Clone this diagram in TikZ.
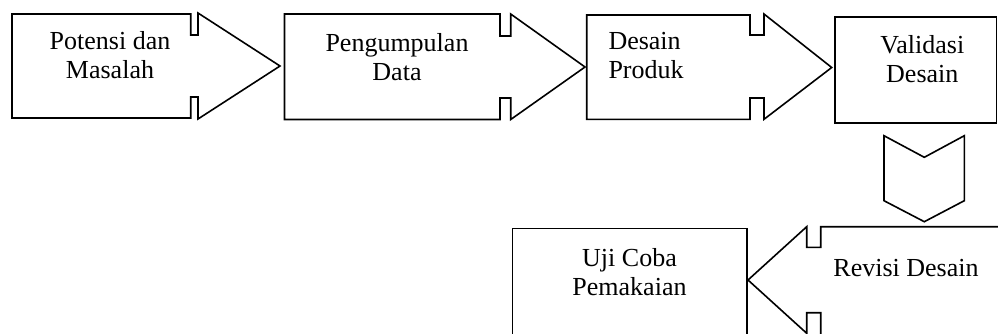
\documentclass[tikz,border=0pt]{standalone}
\usepackage{fontspec}
\setmainfont{Liberation Serif}
\tikzset{
  shapeline/.style={draw=black, line width=1.6pt, line join=miter, fill=white},
  label/.style={inner sep=0pt, font=\fontsize{26}{29}\selectfont, text=black},
}
\begin{document}
\begin{tikzpicture}[x=1pt,y=-1pt]
\useasboundingbox (0,0) rectangle (998,333);
\fill[white] (0,0) rectangle (998,333);
\clip (0,0) rectangle (998,333);
% shape 1: Potensi dan Masalah
\draw[shapeline] (12,14) -- (190.7,14) -- (190.7,35) -- (198,35) -- (198,13)
  -- (280,66) -- (198,119) -- (198,97) -- (190.7,97) -- (190.7,118) -- (12,118) -- cycle;
% shape 2: Pengumpulan Data
\draw[shapeline] (284.5,14) -- (500,14) -- (500,36) -- (510.7,36) -- (510.7,14)
  -- (585,67) -- (510.7,119.5) -- (510.7,98) -- (500,98) -- (500,119.5) -- (284.5,119.5) -- cycle;
% shape 3: Desain Produk
\draw[shapeline] (586.7,15) -- (750,15) -- (750,35) -- (764,35) -- (764,14)
  -- (831.7,67.5) -- (764,119.3) -- (764,98) -- (750,98) -- (750,119.3) -- (586.7,119.3) -- cycle;
% shape 4: Validasi Desain
\draw[shapeline] (835,17) rectangle (996.5,123);
% down chevron
\draw[shapeline] (884,135.7) -- (924.3,157.3) -- (964.3,135.7) -- (964.3,200.7)
  -- (924.3,221.7) -- (884,200.7) -- cycle;
% Uji Coba Pemakaian box
\draw[shapeline] (512.3,340) -- (512.3,228.3) -- (746.7,228.3) -- (746.7,340);
% Revisi Desain arrow (pointing left)
\draw[shapeline] (1005,226.7) -- (820.7,226.7) -- (820.7,247.3) -- (806.7,247.3) -- (806.7,226.7)
  -- (748,280) -- (806.7,333.3) -- (806.7,312.7) -- (820.7,312.7) -- (820.7,340) -- (1005,340);
% labels (anchor = baseline of the last line)
\node[label, anchor=base, align=center] (t1) at (110,78.5) {Potensi dan\\Masalah};
\node[label, anchor=base, align=center] (t2) at (397,80.5) {Pengumpulan\\Data};
\node[label, anchor=base west, align=left] (t3) at (608.3,78.5) {Desain\\Produk};
\node[label, anchor=base, align=center] (t4) at (922.3,82.5) {Validasi\\Desain};
\node[label, anchor=base, align=center] (t5) at (629.5,295) {Uji Coba\\Pemakaian};
\node[label, anchor=base] (t6) at (906,276.7) {Revisi Desain};
\end{tikzpicture}
\end{document}
